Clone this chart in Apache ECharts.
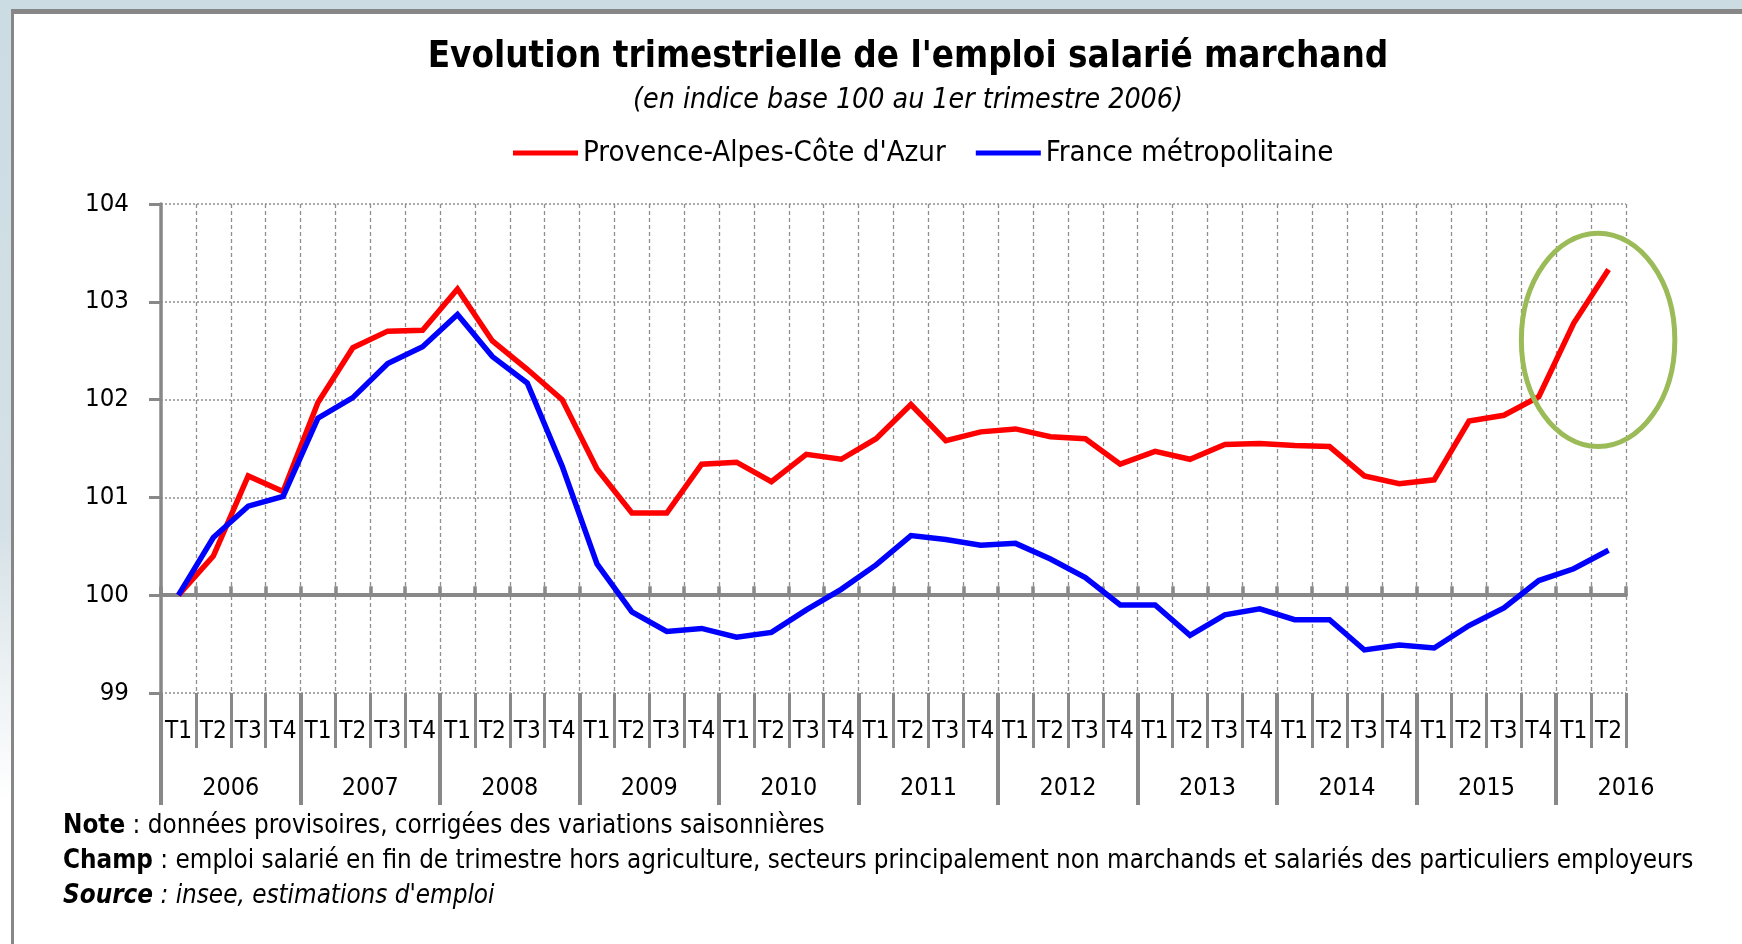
<!DOCTYPE html>
<html>
<head>
<meta charset="utf-8">
<script src="https://cdn.jsdelivr.net/npm/echarts@6/dist/echarts.min.js"></script>
<style>
html,body{margin:0;padding:0;width:1742px;height:944px;overflow:hidden;background:#ffffff;}
#topband{position:absolute;left:0;top:0;width:1742px;height:9px;background:#CCDCE3;}
#leftband{position:absolute;left:0;top:0;width:11px;height:944px;background:linear-gradient(#CCDCE3 0%,#D4E0E6 55%,#ffffff 85%);}
#topline{position:absolute;left:11px;top:9px;width:1731px;height:5px;background:#878787;}
#leftline{position:absolute;left:11px;top:9px;width:3px;height:935px;background:#878787;}
#chart{position:absolute;left:0;top:0;width:1742px;height:944px;}
</style>
</head>
<body>
<div id="topband"></div>
<div id="leftband"></div>
<div id="topline"></div>
<div id="leftline"></div>
<div id="chart"></div>
<script>
// ---------------- DATA ----------------
const quarterLabels = [
  'T1','T2','T3','T4', 'T1','T2','T3','T4', 'T1','T2','T3','T4',
  'T1','T2','T3','T4', 'T1','T2','T3','T4', 'T1','T2','T3','T4',
  'T1','T2','T3','T4', 'T1','T2','T3','T4', 'T1','T2','T3','T4',
  'T1','T2','T3','T4', 'T1','T2'
];
const years = ['2006','2007','2008','2009','2010','2011','2012','2013','2014','2015','2016'];
const seriesNames = ["Provence-Alpes-Côte d'Azur", 'France métropolitaine'];
const paca = [
  100.00, 100.40, 101.22, 101.06, 101.97, 102.53, 102.70, 102.71, 103.13, 102.60,
  102.31, 102.00, 101.29, 100.84, 100.84, 101.34, 101.36, 101.16, 101.44, 101.39,
  101.60, 101.95, 101.58, 101.67, 101.70, 101.62, 101.60, 101.34, 101.47, 101.39,
  101.54, 101.55, 101.53, 101.52, 101.22, 101.14, 101.18, 101.78, 101.84, 102.03,
  102.78, 103.33
];
const france = [
  100.00, 100.59, 100.91, 101.01, 101.81, 102.02, 102.37, 102.54, 102.87, 102.44,
  102.17, 101.32, 100.32, 99.83, 99.63, 99.66, 99.57, 99.62, 99.85, 100.06,
  100.31, 100.61, 100.57, 100.51, 100.53, 100.37, 100.18, 99.90, 99.90, 99.59,
  99.80, 99.86, 99.75, 99.75, 99.44, 99.49, 99.46, 99.69, 99.87, 100.15,
  100.27, 100.46
];
const yMin = 99, yMax = 104, yStep = 1, baseValue = 100;
const titleText = "Evolution trimestrielle de l'emploi salarié marchand";
const subtitleText = '(en indice base 100 au 1er trimestre 2006)';
const noteLines = [
  ['Note', ' : données provisoires, corrigées des variations saisonnières'],
  ['Champ', ' : emploi salarié en fin de trimestre hors agriculture, secteurs principalement non marchands et salariés des particuliers employeurs'],
  ['Source', ' : insee, estimations d\'emploi']
];

// ---------------- LAYOUT ----------------
const FONT = "'Liberation Sans Narrow','Arial Narrow','DejaVu Sans Condensed','Liberation Sans',sans-serif";
const W = 1742, H = 944;
const grid = {left: 161, top: 204, right: W - 1626, bottom: H - 693};
const gridH = H - grid.top - grid.bottom;
const GRAY = '#888888';

const cv = document.createElement('canvas').getContext('2d');
function measure(text, size, weight, style) {
  cv.font = (style || 'normal') + ' ' + (weight || 'normal') + ' ' + size + 'px ' + FONT;
  return cv.measureText(text).width;
}
function fit(text, target, weight, style) {
  return 100 * target / measure(text, 100, weight, style);
}
const titleSize = fit(titleText, 961, 'bold');
const subSize = fit(subtitleText, 550, 'normal', 'italic');
const legendSize = fit(seriesNames[0], 363);
const noteSize = 100 * 1631 / (measure(noteLines[1][0], 100, 'bold') + measure(noteLines[1][1], 100));
const qSize = fit('T1', 27);
const yearSize = fit('2006', 57);
const ySize = fit('104', 44);

const yearAxisData = [];
years.forEach(y => { yearAxisData.push(''); yearAxisData.push(y); });

const qLH = Math.round(qSize * 1.15);
const yrLH = Math.round(yearSize * 1.15);
const legLH = Math.round(legendSize * 1.2);

const chart = echarts.init(document.getElementById('chart'), null, {renderer: 'canvas'});

const option = {
  animation: false,
  backgroundColor: 'transparent',
  grid: {left: grid.left, top: grid.top, right: grid.right, bottom: grid.bottom, containLabel: false},
  legend: {
    left: 513, top: 153 - legLH / 2, padding: 0,
    icon: 'rect', itemWidth: 65, itemHeight: 5, itemGap: 30,
    textStyle: {fontSize: legendSize, fontFamily: FONT, color: '#000', lineHeight: legLH},
    data: seriesNames
  },
  xAxis: [
    {
      type: 'category', data: quarterLabels, boundaryGap: true, position: 'bottom',
      axisLine: {show: false, onZero: false},
      axisTick: {show: true, interval: 0, length: 55, lineStyle: {color: GRAY, width: 3}},
      axisLabel: {interval: 0, fontSize: qSize, fontFamily: FONT, color: '#000',
        lineHeight: qLH, margin: 732 - 693 - qLH / 2},
      splitLine: {show: true, interval: 0, lineStyle: {color: '#8f8f8f', width: 1.3, type: [4, 3]}}
    },
    {
      type: 'category', data: quarterLabels, boundaryGap: true, position: 'bottom',
      offset: -(baseValue - yMin) / (yMax - yMin) * gridH,
      axisLine: {show: true, onZero: false, lineStyle: {color: GRAY, width: 4}},
      axisTick: {show: true, inside: true, interval: 0, length: 9, lineStyle: {color: GRAY, width: 3.5}},
      axisLabel: {show: false},
      splitLine: {show: false}
    },
    {
      type: 'category', data: yearAxisData, boundaryGap: false, position: 'bottom',
      axisLine: {show: false, onZero: false},
      axisTick: {show: true, interval: function (idx) { return idx % 2 === 0; }, length: 112,
        lineStyle: {color: GRAY, width: 4}},
      axisLabel: {interval: 0, fontSize: yearSize, fontFamily: FONT, color: '#000',
        lineHeight: yrLH, margin: 789 - 693 - yrLH / 2},
      splitLine: {show: false}
    }
  ],
  yAxis: {
    type: 'value', min: yMin, max: yMax, interval: yStep,
    axisLine: {show: true, lineStyle: {color: GRAY, width: 3.5}},
    axisTick: {show: true, length: 12, lineStyle: {color: GRAY, width: 3}},
    axisLabel: {fontSize: ySize, fontFamily: FONT, color: '#000', margin: 32},
    splitLine: {show: true, lineStyle: {color: '#8f8f8f', width: 1.5, type: [2, 2]}}
  },
  series: [
    {name: seriesNames[0], type: 'line', xAxisIndex: 0, data: paca, showSymbol: false, symbol: 'none',
      color: '#FF0000', lineStyle: {color: '#FF0000', width: 5.5, join: 'miter'}},
    {name: seriesNames[1], type: 'line', xAxisIndex: 0, data: france, showSymbol: false, symbol: 'none',
      color: '#0000FF', lineStyle: {color: '#0000FF', width: 5.5, join: 'miter'}}
  ]
};
chart.setOption(option);

// ---------------- TEXTS AND ANNOTATION ----------------
const graphics = [];
function textEl(id, text, x, y, size, weight, style, align, rich) {
  const st = {text: text, x: x, y: y, fontSize: size, fontFamily: FONT, fontWeight: weight || 'normal',
    fontStyle: style || 'normal', fill: '#000', align: align || 'center', verticalAlign: 'middle',
    textAlign: align || 'center', textVerticalAlign: 'middle'};
  if (rich) st.rich = rich;
  graphics.push({type: 'text', id: id, z: 10, style: st});
}
textEl('title', titleText, 908, 58, titleSize, 'bold');
textEl('subtitle', subtitleText, 908, 101, subSize, 'normal', 'italic');

const noteY = [826, 861, 896];
noteLines.forEach((ln, i) => {
  const italic = i === 2;
  const rich = {
    b: {fontSize: noteSize, fontFamily: FONT, fontWeight: 'bold', fontStyle: italic ? 'italic' : 'normal', fill: '#000'},
    r: {fontSize: noteSize, fontFamily: FONT, fontWeight: 'normal', fontStyle: italic ? 'italic' : 'normal', fill: '#000'}
  };
  textEl('note' + i, '{b|' + ln[0] + '}{r|' + ln[1] + '}', 63, noteY[i], noteSize, 'normal', 'normal', 'left', rich);
});

// green ellipse annotation around the last PACA points
const ellCenterIdx = 40.7, ellCenterVal = 102.61, ellHalfQuarters = 2.2, ellHalfUnits = 1.09;
const p40 = chart.convertToPixel({xAxisIndex: 0, yAxisIndex: 0}, [40, ellCenterVal]);
const p41 = chart.convertToPixel({xAxisIndex: 0, yAxisIndex: 0}, [41, ellCenterVal]);
const pUp = chart.convertToPixel({xAxisIndex: 0, yAxisIndex: 0}, [40, ellCenterVal + ellHalfUnits]);
const step = p41[0] - p40[0];
graphics.push({
  type: 'ellipse', id: 'ell', z: 20,
  shape: {cx: p40[0] + (ellCenterIdx - 40) * step, cy: p40[1], rx: ellHalfQuarters * step, ry: p40[1] - pUp[1]},
  style: {fill: null, stroke: '#9BBB59', lineWidth: 5}
});
chart.setOption({graphic: graphics});
</script>
</body>
</html>
